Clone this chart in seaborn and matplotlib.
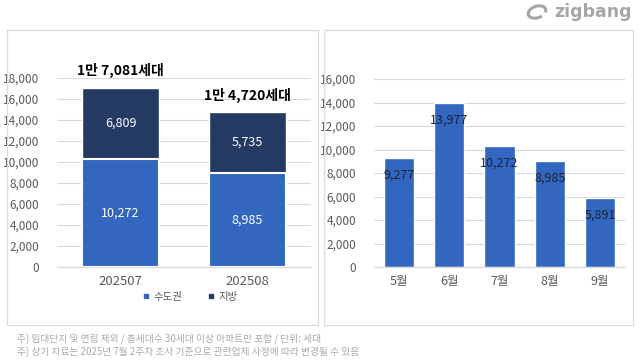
import numpy as np
import pandas as pd
import matplotlib.pyplot as plt
import seaborn as sns
from matplotlib.patches import Rectangle, Arc
from matplotlib.lines import Line2D

# data
months_left = ['202507', '202508']
capital = [10272, 8985]     # 수도권
regional = [6809, 5735]     # 지방
total_labels = ['1만 7,081세대', '1만 4,720세대']

months_right = ['5월', '6월', '7월', '8월', '9월']
supply = [9277, 13977, 10272, 8985, 5891]

notes = ['주) 임대단지 및 연립 제외 / 총세대수 30세대 이상 아파트만 포함 / 단위: 세대',
         '주) 상기 자료는 2025년 7월 2주차 조사 기준으로 관련업체 사정에 따라 변경될 수 있음']

sns.set_theme(style='white')
plt.rcParams['font.family'] = ['Noto Sans CJK KR', 'DejaVu Sans']

blue = '#3266BF'
navy = '#243A63'
grid = '#D9D9D9'
tick_gray = '#595959'

W, H = 640, 360
fig = plt.figure(figsize=(6.4, 3.6), dpi=100)

def px(x0, y0, x1, y1):
    # pixel box (top-left origin) -> figure fraction
    return [x0 / W, 1 - y1 / H, (x1 - x0) / W, (y1 - y0) / H]

# panel frames
for x0, x1 in [(7, 318), (324, 633)]:
    fig.patches.append(Rectangle((x0 / W, 1 - 325 / H), (x1 - x0) / W, 295 / H,
                                 transform=fig.transFigure, fill=False,
                                 edgecolor='#DDDDDD', linewidth=0.9))

def style_axes(ax, top):
    ax.set_ylim(0, top)
    ax.set_yticks(np.arange(0, top + 1, 2000))
    ax.set_yticklabels([f'{v:,}' for v in np.arange(0, top + 1, 2000)])
    ax.yaxis.grid(True, color=grid, linewidth=0.8)
    ax.set_axisbelow(True)
    for s in ['top', 'right', 'left']:
        ax.spines[s].set_visible(False)
    ax.spines['bottom'].set_color(grid)
    ax.spines['bottom'].set_linewidth(0.9)
    ax.tick_params(axis='y', length=0, pad=13, labelsize=8.5, labelcolor=tick_gray)
    ax.tick_params(axis='x', length=0, pad=6, labelsize=9, labelcolor=tick_gray)
    ax.set_xlabel('')
    ax.set_ylabel('')
    ax.set_facecolor('none')

# left: stacked bars
ax1 = fig.add_axes(px(57, 78, 311, 267))
df_left = pd.DataFrame({'month': months_left, 'capital': capital, 'regional': regional})
df_left['total'] = df_left['capital'] + df_left['regional']
sns.barplot(data=df_left, x='month', y='total', color=navy, width=0.6,
            saturation=1, ax=ax1)
sns.barplot(data=df_left, x='month', y='capital', color=blue, width=0.6,
            saturation=1, edgecolor='white', linewidth=1.5, ax=ax1)
style_axes(ax1, 18000)
ax1.tick_params(axis='x', labelsize=9.5)
for i, row in df_left.iterrows():
    ax1.text(i, row['capital'] / 2, f"{row['capital']:,}", ha='center', va='center',
             color='white', fontsize=9)
    ax1.text(i, row['capital'] + row['regional'] / 2, f"{row['regional']:,}",
             ha='center', va='center', color='white', fontsize=9)
    ax1.annotate(total_labels[i], (i, row['total']), xytext=(0, 7),
                 textcoords='offset points', ha='center', va='bottom',
                 fontsize=10, fontweight='bold', color='black', annotation_clip=False)

handles = [Line2D([], [], marker='s', linestyle='', color=c, markersize=3.2)
           for c in [blue, navy]]
fig.legend(handles, ['수도권', '지방'], loc='center', bbox_to_anchor=(190 / W, 1 - 297 / H),
           ncol=2, frameon=False, fontsize=7.5, labelcolor=tick_gray,
           handletextpad=0.3, columnspacing=2.4, handlelength=0.8)

# right: monthly bars
ax2 = fig.add_axes(px(374, 79, 625, 267))
df_right = pd.DataFrame({'month': months_right, 'supply': supply})
sns.barplot(data=df_right, x='month', y='supply', color=blue, width=0.6,
            saturation=1, ax=ax2)
style_axes(ax2, 16000)
ax2.bar_label(ax2.containers[0], labels=[f'{v:,}' for v in supply],
              padding=-17, fontsize=9, color='#1A2238')

# footnotes
fig.text(17 / W, 1 - 339 / H, notes[0], fontsize=7, color='#AAAAAA', va='center')
fig.text(17 / W, 1 - 352 / H, notes[1], fontsize=7, color='#AAAAAA', va='center')

# zigbang logo
fig.text(632 / W, 1 - 12 / H, 'zigbang', fontsize=12.5, color='#A6A6A6',
         ha='right', va='center', fontweight='bold', family=['DejaVu Sans'])
fig.patches.append(Arc((537 / W, 1 - 12 / H), 16 / W, 13 / H, angle=-25,
                       theta1=20, theta2=330, transform=fig.transFigure,
                       color='#A6A6A6', linewidth=2.2))

fig.savefig('out.png', dpi=100)
